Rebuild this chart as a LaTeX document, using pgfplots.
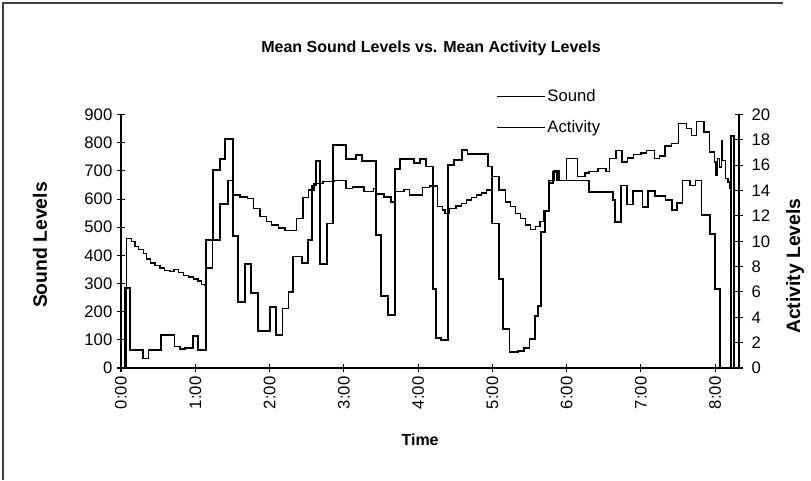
\documentclass[border=0pt]{standalone}
\usepackage{pgfplots}
\pgfplotsset{compat=1.18}
\usepackage{fontspec}
\setmainfont{Liberation Sans}

\pgfplotstableread{
h S
0 0
0.075 460
0.14 449
0.19 432
0.24 420
0.30 406
0.345 387
0.40 373
0.46 365
0.525 355
0.59 347
0.66 343
0.715 350
0.77 338
0.84 329
0.905 323
0.975 316
1.035 309
1.085 297
1.12 292
1.145 355
1.23 455
1.335 582
1.44 667
1.505 614
1.60 607
1.70 603
1.78 567
1.87 538
1.96 520
2.03 508
2.12 497
2.21 488
2.365 532
2.45 606
2.525 632
2.60 655
2.72 663
2.875 667
3.03 638
3.12 643
3.27 626
3.395 638
3.435 618
3.54 607
3.635 590
3.69 626
3.81 634
3.88 614
4.06 640
4.15 646
4.26 573
4.325 561
4.36 548
4.425 567
4.51 575
4.585 585
4.655 596
4.72 606
4.79 614
4.855 622
4.925 632
4.99 679
5.09 632
5.175 590
5.245 573
5.31 549
5.38 532
5.45 508
5.515 491
5.58 502
5.64 520
5.69 558
5.76 667
5.83 702
5.895 667
6.0 744
6.15 680
6.245 693
6.30 697
6.42 708
6.53 697
6.58 744
6.665 773
6.745 732
6.815 746
6.90 759
7.0 764
7.075 773
7.18 744
7.25 753
7.325 788
7.41 798
7.505 869
7.615 850
7.685 826
7.75 876
7.85 838
7.92 767
7.99 732
8.01 685
8.03 744
8.055 714
8.08 808
8.10 738
8.135 673
8.17 660
8.195 638
8.21 600
8.215 600
}\sounddata

\pgfplotstableread{
h A
0 0
0.054 6.3
0.12 1.45
0.295 0.75
0.37 1.45
0.54 2.6
0.72 1.7
0.80 1.5
0.86 1.6
0.97 2.5
1.035 1.4
1.145 10.1
1.24 15.6
1.335 16.5
1.405 18.1
1.51 10.4
1.57 5.2
1.665 8.2
1.755 5.9
1.84 2.9
2.01 4.8
2.085 2.6
2.175 4.7
2.255 6.0
2.32 8.8
2.44 8.3
2.52 10.1
2.57 14.4
2.63 16.3
2.68 8.2
2.77 11.4
2.85 17.6
3.03 16.5
3.16 16.8
3.24 16.3
3.43 10.5
3.50 5.7
3.59 4.2
3.685 15.7
3.76 16.5
3.945 16.2
4.02 16.5
4.11 15.9
4.205 6.2
4.24 2.4
4.31 2.2
4.40 16.0
4.485 16.4
4.595 17.2
4.665 16.9
4.94 15.9
4.99 11.4
5.09 7.0
5.14 3.1
5.23 1.25
5.34 1.35
5.43 1.6
5.50 2.3
5.575 4.1
5.615 4.9
5.65 10.7
5.71 12.4
5.765 14.6
5.815 15.5
5.875 14.8
6.30 13.9
6.62 13.25
6.645 11.55
6.73 14.4
6.81 12.9
6.89 14.0
7.02 12.7
7.09 14.0
7.19 13.6
7.33 13.25
7.42 12.5
7.49 13.0
7.56 14.8
7.665 14.4
7.735 14.8
7.815 12.1
7.925 10.6
7.995 6.2
8.06 0
8.21 18.3
8.25 0
8.28 0
}\activitydata

\newcommand{\tickfont}{\fontsize{12.5}{14}\selectfont}
\newcommand{\labfont}{\bfseries\fontsize{14.5}{16}\selectfont}

\begin{document}
\begin{tikzpicture}
\pgfplotsset{
  common/.style={
    at={(0,0)}, anchor=south west,
    width=463.5pt, height=190.1pt, scale only axis,
    xmin=0, xmax=8.32,
    tick align=center, major tick length=6pt,
    tick style={line width=0.8pt, black},
    axis line style={line width=1.1pt, black},
    tick label style={font=\tickfont},
    /pgf/number format/assume math mode=true,
    label style={font=\labfont},
  }
}
\begin{axis}[common,
  ymin=0, ymax=900,
  axis y line*=left, axis x line*=bottom,
  xtick={0,1,2,3,4,5,6,7,8},
  xticklabels={0:00,1:00,2:00,3:00,4:00,5:00,6:00,7:00,8:00},
  x tick label style={rotate=90, anchor=east},
  ytick={0,100,...,900},
  xlabel={Time},
  ylabel={Sound Levels},
  x label style={at={(axis description cs:0.484,-0.284)}, anchor=center, font=\bfseries\fontsize{12}{14}\selectfont},
  y label style={at={(axis description cs:-0.131,0.485)}, anchor=center},
  legend style={draw=none, fill=none, inner sep=0pt,
    at={(axis description cs:0.6065,1.108)}, anchor=north west,
    font=\tickfont, row sep=9.75pt, nodes={inner sep=1.5pt}},
  legend cell align=left,
  legend image code/.code={\draw[#1] (0pt,0pt) -- (36pt,0pt);},
]
\addplot[const plot, black, line width=1pt] table[x=h, y=S] {\sounddata};
\addlegendentry{Sound}
\addlegendimage{black, line width=1pt}
\addlegendentry{Activity}
\end{axis}
\begin{axis}[common,
  ymin=0, ymax=20,
  axis y line*=right, axis x line=none,
  ytick={0,2,...,20},
  yticklabel style={xshift=3pt},
  ylabel={Activity Levels},
  y label style={at={(axis description cs:1.091,0.402)}, anchor=center},
]
\addplot[const plot, black, line width=1.4pt] table[x=h, y=A] {\activitydata};
\end{axis}
\node[font=\bfseries\fontsize{12}{14}\selectfont, anchor=base] at (232.5pt,237pt) {Mean Sound Levels vs. Mean Activity Levels};
\draw[black!75, line width=0.9pt] (-88.5pt,-84pt) -- (-88.5pt,273.75pt) -- (496.5pt,273.75pt);
\pgfresetboundingbox
\path[use as bounding box] (-90.75pt,-84pt) rectangle (517.5pt,276pt);
\end{tikzpicture}
\end{document}
